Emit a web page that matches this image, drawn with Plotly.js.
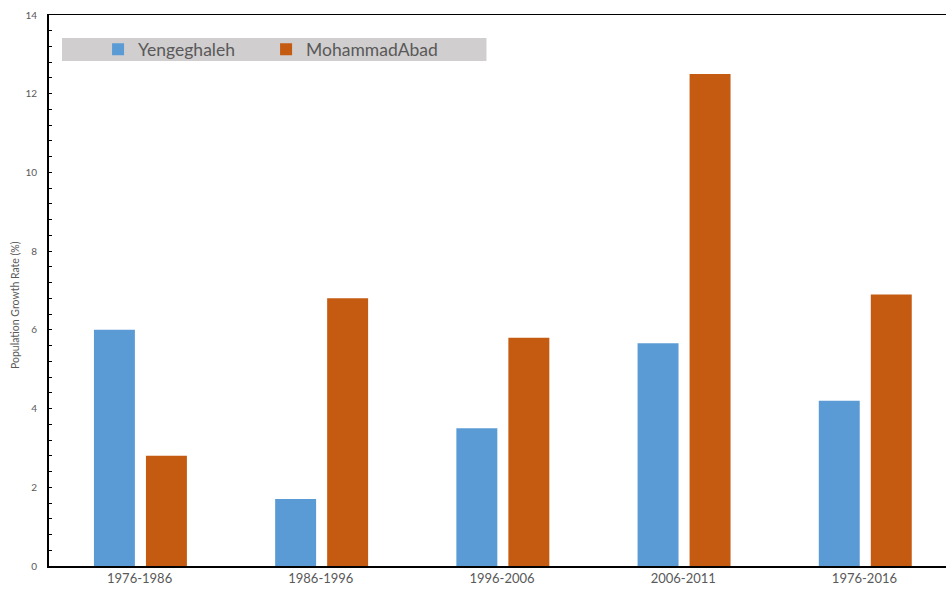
<!DOCTYPE html>
<html>
<head>
<meta charset="utf-8">
<script src="https://cdn.plot.ly/plotly-3.0.1.min.js"></script>
<style>
  html, body { margin: 0; padding: 0; background: #fff; }
  #chart { width: 946px; height: 593px; }
</style>
</head>
<body>
<div id="chart"></div>
<script>
// Population growth rate per period for the two settlements
const periods = ['1976-1986', '1986-1996', '1996-2006', '2006-2011', '1976-2016'];
const yengeghaleh = [6.0, 1.7, 3.5, 5.66, 4.2];
const mohammadAbad = [2.8, 6.8, 5.8, 12.5, 6.9];
const seriesNames = ['Yengeghaleh', 'MohammadAbad'];
const yTitle = 'Population Growth Rate (%)';

const FONT = 'Lato, "Open Sans", sans-serif';
const GREY = '#595959';

const traces = [
  {
    type: 'bar',
    name: seriesNames[0],
    x: periods,
    y: yengeghaleh,
    width: 0.226,
    offset: -0.252,
    marker: { color: '#5B9BD5', line: { width: 0 } },
    legend: 'legend',
    hoverinfo: 'x+y'
  },
  {
    type: 'bar',
    name: seriesNames[1],
    x: periods,
    y: mohammadAbad,
    width: 0.226,
    offset: 0.035,
    marker: { color: '#C55A11', line: { width: 0 } },
    legend: 'legend2',
    hoverinfo: 'x+y'
  }
];

// one legend box per series so each entry sits at its own place in the band
function legendAt(x) {
  return {
    orientation: 'h',
    x: x,
    xanchor: 'left',
    y: 0.9374,
    yanchor: 'middle',
    bgcolor: 'rgba(0,0,0,0)',
    borderwidth: 0,
    font: { family: FONT, size: 17.5, color: GREY }
  };
}

const layout = {
  width: 946,
  height: 593,
  margin: { l: 49, r: 0, t: 15, b: 27, pad: 0 },
  paper_bgcolor: '#ffffff',
  plot_bgcolor: '#ffffff',
  barmode: 'overlay',
  font: { family: FONT, color: GREY },
  showlegend: true,
  legend: legendAt(0.0547),
  legend2: legendAt(0.2420),
  xaxis: {
    type: 'category',
    range: [-0.5, 4.45],
    showgrid: false,
    zeroline: false,
    showline: true,
    linecolor: '#000000',
    linewidth: 1.5,
    mirror: true,
    ticks: '',
    tickfont: { family: FONT, size: 13, color: GREY },
    fixedrange: true
  },
  yaxis: {
    range: [0, 14],
    dtick: 2,
    tick0: 0,
    showgrid: false,
    zeroline: false,
    showline: true,
    linecolor: '#000000',
    linewidth: 2,
    ticks: 'inside',
    ticklen: 3,
    tickwidth: 1,
    tickcolor: '#000000',
    minor: { dtick: 0.4, ticks: 'inside', ticklen: 3, tickwidth: 1, tickcolor: '#000000', showgrid: false },
    tickfont: { family: FONT, size: 10, color: GREY },
    ticklabelstandoff: 8,
    fixedrange: true
  },
  shapes: [
    {
      // grey band behind the legend
      type: 'rect',
      xref: 'paper', yref: 'paper',
      x0: 0.0145, x1: 0.4877,
      y0: 0.9165, y1: 0.9583,
      fillcolor: '#D0CECE',
      line: { width: 0 },
      layer: 'below'
    }
  ],
  annotations: [
    {
      text: yTitle,
      xref: 'paper', yref: 'paper',
      x: -0.0379, y: 0.4737,
      xanchor: 'center', yanchor: 'middle',
      textangle: -90,
      showarrow: false,
      font: { family: FONT, size: 10.5, color: GREY }
    }
  ]
};

Plotly.newPlot('chart', traces, layout, { displayModeBar: false, staticPlot: true });
</script>
</body>
</html>
